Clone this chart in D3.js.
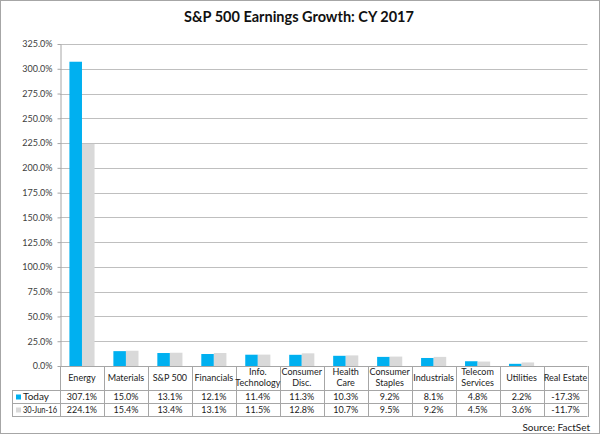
<!DOCTYPE html>
<html>
<head>
<meta charset="utf-8">
<script src="https://cdn.jsdelivr.net/npm/d3@7"></script>
<style>
  body { margin: 0; background: #fff; }
  svg { display: block; font-family: Lato, "Open Sans", sans-serif; }
</style>
</head>
<body>
<svg id="chart" width="600" height="435"></svg>
<script>
// chart data
const categories = ["Energy", "Materials", "S&P 500", "Financials", "Info. Technology",
  "Consumer Disc.", "Health Care", "Consumer Staples", "Industrials",
  "Telecom Services", "Utilities", "Real Estate"];
// how each category label wraps in the table header
const categoryLines = [["Energy"], ["Materials"], ["S&P 500"], ["Financials"], ["Info.", "Technology"],
  ["Consumer", "Disc."], ["Health", "Care"], ["Consumer", "Staples"], ["Industrials"],
  ["Telecom", "Services"], ["Utilities"], ["Real Estate"]];
const seriesNames = ["Today", "30-Jun-16"];
const today = [307.1, 15.0, 13.1, 12.1, 11.4, 11.3, 10.3, 9.2, 8.1, 4.8, 2.2, -17.3];
const jun16 = [224.1, 15.4, 13.4, 13.1, 11.5, 12.8, 10.7, 9.5, 9.2, 4.5, 3.6, -11.7];
const yTicks = d3.range(0, 326, 25);

const colors = ["#00b0f0", "#d9d9d9"];
const series = [today, jun16];

const svg = d3.select("#chart");
const plotLeft = 60, plotRight = 587.5, plotTop = 44, plotBottom = 366;
const rowY = [390, 403, 416];
const tableLeft = 12.5;

// outer border
svg.append("rect")
  .attr("x", 0.5).attr("y", 0.5)
  .attr("width", 599).attr("height", 433)
  .attr("fill", "#fff").attr("stroke", "#a6a6a6");

svg.append("text")
  .attr("x", 299).attr("y", 22)
  .attr("text-anchor", "middle")
  .attr("font-size", 14.5).attr("font-weight", "bold")
  .attr("fill", "#111")
  .text("S&P 500 Earnings Growth: CY 2017");

const x = d3.scaleBand().domain(categories).range([plotLeft, plotRight]);
const barW = x.bandwidth() / 3.5;
const y = d3.scaleLinear().domain([0, 325]).range([plotBottom, plotTop]);

// gridlines
svg.append("g")
  .selectAll("line")
  .data(yTicks.filter(d => d > 0))
  .join("line")
  .attr("x1", plotLeft).attr("x2", plotRight)
  .attr("y1", d => Math.round(y(d)) + 0.5).attr("y2", d => Math.round(y(d)) + 0.5)
  .attr("stroke", "#bfbfbf");

// y axis
const yAxis = svg.append("g")
  .attr("transform", `translate(${plotLeft + 0.5},0)`)
  .call(d3.axisLeft(y).tickValues(yTicks).tickSizeInner(3).tickSizeOuter(0).tickPadding(5)
    .tickFormat(d => d.toFixed(1) + "%"));
yAxis.select(".domain").attr("stroke", "#a6a6a6");
yAxis.selectAll(".tick line").attr("stroke", "#a6a6a6");
yAxis.selectAll("text").attr("font-size", 9).attr("fill", "#404040").attr("font-family", "Lato, sans-serif");

// bars, clipped to the plot area
svg.append("clipPath").attr("id", "plot")
  .append("rect").attr("x", plotLeft).attr("y", plotTop)
  .attr("width", plotRight - plotLeft).attr("height", plotBottom - plotTop);

const bars = svg.append("g").attr("clip-path", "url(#plot)");
series.forEach((vals, si) => {
  bars.append("g")
    .selectAll("rect")
    .data(vals)
    .join("rect")
    .attr("x", (d, i) => x(categories[i]) + x.bandwidth() / 2 - barW + si * barW)
    .attr("y", d => y(Math.max(0, d)))
    .attr("width", barW)
    .attr("height", d => Math.abs(y(d) - y(0)))
    .attr("fill", colors[si]);
});

// data table
const table = svg.append("g").attr("stroke", "#a6a6a6").attr("fill", "none");
table.append("line").attr("x1", plotLeft).attr("x2", plotRight)
  .attr("y1", plotBottom + 0.5).attr("y2", plotBottom + 0.5);
rowY.forEach(ry => {
  table.append("line").attr("x1", tableLeft).attr("x2", plotRight).attr("y1", ry + 0.5).attr("y2", ry + 0.5);
});
const bounds = categories.map(c => x(c)).concat([plotRight]);
table.selectAll("line.v")
  .data(bounds)
  .join("line")
  .attr("class", "v")
  .attr("x1", d => Math.round(d) + 0.5).attr("x2", d => Math.round(d) + 0.5)
  .attr("y1", plotBottom).attr("y2", rowY[2] + 1);
table.append("line")
  .attr("x1", tableLeft).attr("x2", tableLeft)
  .attr("y1", rowY[0]).attr("y2", rowY[2] + 1);

// category header
const header = svg.append("g").attr("font-size", 9).attr("fill", "#222").attr("text-anchor", "middle");
categoryLines.forEach((lines, i) => {
  const cx = x(categories[i]) + x.bandwidth() / 2;
  const t = header.append("text").attr("x", cx);
  const y0 = lines.length === 1 ? 381 : 375;
  lines.forEach((ln, li) => {
    t.append("tspan").attr("x", cx).attr("y", y0 + li * 11).text(ln);
  });
});

// value rows with legend keys
series.forEach((vals, si) => {
  const cy = (rowY[si] + rowY[si + 1]) / 2;
  svg.append("rect")
    .attr("x", 16).attr("y", cy - 2)
    .attr("width", 5).attr("height", 5)
    .attr("fill", colors[si]);
  svg.append("text")
    .attr("x", 23).attr("y", cy + 3.5)
    .attr("font-size", 8.5).attr("fill", "#222")
    .attr("textLength", si === 0 ? 26 : 34)
    .attr("lengthAdjust", "spacingAndGlyphs")
    .text(seriesNames[si]);
  svg.append("g")
    .selectAll("text")
    .data(vals)
    .join("text")
    .attr("x", (d, i) => x(categories[i]) + x.bandwidth() / 2)
    .attr("y", cy + 3.5)
    .attr("text-anchor", "middle")
    .attr("font-size", 9).attr("fill", "#222")
    .text(d => d.toFixed(1) + "%");
});

svg.append("text")
  .attr("x", 590).attr("y", 431)
  .attr("text-anchor", "end")
  .attr("font-size", 10).attr("fill", "#222")
  .text("Source: FactSet");
</script>
</body>
</html>
